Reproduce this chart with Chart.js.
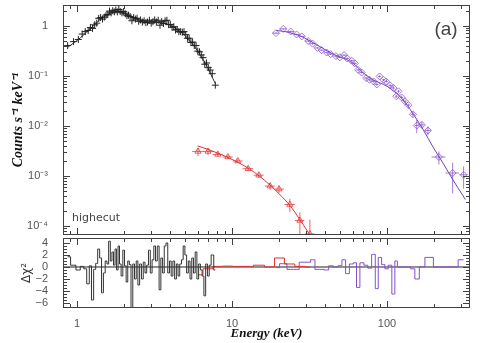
<!DOCTYPE html>
<html>
<head>
<meta charset="utf-8">
<script src="https://cdn.jsdelivr.net/npm/chart.js@4"></script>
<style>
  html, body { margin: 0; padding: 0; background: #fff; }
  #wrap { position: relative; width: 480px; height: 343px; }
  #top { position: absolute; left: 0; top: 0; }
  #bot { position: absolute; left: 0; top: 236px; }
</style>
</head>
<body>
<div id="wrap">
  <canvas id="top" width="480" height="240"></canvas>
  <canvas id="bot" width="480" height="107"></canvas>
</div>
<script>
// axis limits (keV, counts, delta chi)
const xMin = 0.812, xMax = 343;
const yMin = 6.67e-5, yMax = 2.58;
const rMin = -6.83, rMax = 4.83;

// black spectrum (low energy)
const blackE = [0.87, 0.95, 1.02, 1.08, 1.13, 1.18, 1.22, 1.26, 1.30, 1.34, 1.38, 1.42, 1.46, 1.50, 1.54, 1.58,
  1.62, 1.66, 1.70, 1.74, 1.78, 1.82, 1.86, 1.90, 1.95, 2.00, 2.05, 2.10, 2.15, 2.20, 2.26, 2.32, 2.38, 2.44,
  2.50, 2.57, 2.64, 2.71, 2.78, 2.85, 2.93, 3.01, 3.09, 3.17, 3.25, 3.34, 3.43, 3.52, 3.61, 3.70, 3.80, 3.90,
  4.00, 4.10, 4.21, 4.32, 4.43, 4.54, 4.66, 4.78, 4.90, 5.03, 5.16, 5.29, 5.43, 5.57, 5.71, 5.86, 6.01, 6.17,
  6.33, 6.50, 6.67, 6.85, 7.03, 7.22, 7.45, 7.80];
const blackC = [0.40, 0.48, 0.53, 0.68, 0.76, 0.80, 0.92, 0.88, 1.04, 1.12, 1.40, 1.45, 1.35, 1.48, 1.62, 1.66,
  1.95, 1.80, 1.98, 1.88, 2.05, 1.88, 2.10, 1.92, 1.80, 1.92, 1.72, 1.58, 1.62, 1.52, 1.25, 1.45, 1.35, 1.40,
  1.22, 1.30, 1.18, 1.25, 1.15, 1.18, 1.28, 1.12, 1.20, 1.30, 1.18, 1.28, 1.02, 1.20, 1.10, 1.25, 1.28, 1.05,
  1.05, 0.93, 0.95, 0.82, 0.84, 0.76, 0.76, 0.74, 0.76, 0.66, 0.56, 0.56, 0.46, 0.47, 0.40, 0.40, 0.31, 0.30,
  0.26, 0.23, 0.17, 0.18, 0.145, 0.13, 0.11, 0.065];
const blackRes = [1.7, 0.3, -0.5, 0.1, -0.3, -2.8, 0.2, -5.5, -0.4, 0.6, 3.0, 1.5, -4.3, -1.0, 1.0, 0.5,
  4.3, 1.0, 2.5, 0.3, 3.0, -0.5, 3.5, 0.5, -1.5, 2.8, 0.2, -2.5, 1.0, 0.4, -7.0, 0.5, -2.0, 1.0,
  -3.0, 0.5, -2.0, 0.8, -1.0, 0.3, 2.8, -1.0, 1.2, 3.5, 1.0, 3.5, -3.8, 1.5, -1.0, 3.5, 4.0, -1.0,
  1.0, -1.5, 1.0, -2.0, 0.5, -1.5, 0.5, 1.2, 3.5, 2.0, -1.0, 1.0, -2.0, 1.5, -1.0, 2.5, -2.0, 0.5,
  -0.5, -1.5, -4.8, 0.5, -1.5, 0.3, 2.0, -0.5];
const blackModelE = [0.87, 0.95, 1.05, 1.15, 1.27, 1.4, 1.55, 1.7, 1.85, 2.0, 2.2, 2.5, 2.8, 3.2, 3.6, 4.0,
  4.4, 4.8, 5.2, 5.6, 6.0, 6.5, 7.0, 7.5, 7.8];
const blackModelC = [0.37, 0.45, 0.57, 0.74, 0.98, 1.3, 1.62, 1.85, 1.92, 1.8, 1.55, 1.3, 1.2, 1.17, 1.13, 1.02,
  0.86, 0.7, 0.55, 0.42, 0.31, 0.21, 0.14, 0.09, 0.07];

// red spectrum (middle energy)
const redE = [6.03, 7.0, 8.1, 9.4, 10.9, 12.7, 14.9, 17.6, 20.1, 23.6, 27.4, 31.8];
const redC = [3.1e-3, 3.1e-3, 2.7e-3, 2.4e-3, 2.0e-3, 1.4e-3, 1.04e-3, 6.3e-4, 5.5e-4, 2.7e-4, 1.3e-4, 7e-5];
const redXErr = [0.5, 0.5, 0.6, 0.7, 0.8, 1.0, 1.1, 1.3, 1.5, 1.8, 1.9, 2.3];
const redYErr = [6e-4, 5e-4, 3e-4, 2.2e-4, 1.8e-4, 1.5e-4, 1.3e-4, 1e-4, 9e-5, 8e-5, 6e-5, 6.5e-5];
const redRes = [-1.3, -0.3, 0.1, 0.15, 0.1, 0.1, 0.3, 0.0, 1.5, 0.5, 0.1, 0.0];
const redModelE = [6.0, 7, 8, 9.4, 11, 13, 15, 17.6, 20, 23.6, 27.4, 32];
const redModelC = [4.0e-3, 3.4e-3, 2.9e-3, 2.35e-3, 1.85e-3, 1.38e-3, 1.0e-3, 6.6e-4, 4.5e-4, 2.6e-4, 1.35e-4, 6.5e-5];

// purple spectrum (high energy)
const purpleE = [19.2, 21.4, 23.9, 26.1, 28.2, 31.0, 33.1, 35.5, 37.9, 40.8, 43.3, 46.8, 49.6, 52.8, 55.3,
  59.1, 62.0, 65.1, 68.6, 73.3, 77.1, 82.0, 86.0, 89.6, 95.0, 98.8, 104.9, 110, 114.7, 118.6, 124.2, 130.6,
  137.3, 147, 155.5, 167.8, 183.6, 216, 265, 312];
const purpleC = [0.707, 0.861, 0.763, 0.666, 0.609, 0.493, 0.437, 0.359, 0.324, 0.291, 0.270, 0.247, 0.233,
  0.258, 0.222, 0.200, 0.177, 0.131, 0.116, 0.090, 0.083, 0.077, 0.067, 0.097, 0.083, 0.077, 0.064, 0.057,
  0.039, 0.049, 0.037, 0.031, 0.026, 0.017, 0.0102, 0.0105, 0.0081, 0.0024, 0.00115, 0.00106];
const purpleXErr = [1.0, 1.2, 1.2, 1.1, 1.2, 1.4, 1.2, 1.2, 1.3, 1.4, 1.4, 1.6, 1.6, 1.6, 1.6, 1.8, 1.8, 1.8,
  2.0, 2.2, 2.2, 2.4, 2.2, 2.0, 2.2, 2.4, 2.6, 2.8, 2.4, 2.2, 2.8, 3.2, 3.4, 4.5, 4.5, 6, 8, 22, 26, 19];
const purpleYErr = [0.03, 0.03, 0.03, 0.025, 0.02, 0.02, 0.018, 0.015, 0.013, 0.012, 0.011, 0.01, 0.01,
  0.01, 0.009, 0.008, 0.008, 0.006, 0.005, 0.004, 0.004, 0.004, 0.004, 0.005, 0.004, 0.004, 0.004, 0.004,
  0.003, 0.003, 0.003, 0.003, 0.002, 0.002, 0.003, 0.0015, 0.0016, 0.0007, 0.0007, 0.0005];
const purpleRes = [-0.1, 0.55, -0.4, -0.4, 0.8, 0.8, 1.2, -0.4, -0.4, -0.5, 0.2, 0.0, 0.2, 1.2, -1.1,
  0.5, 0.7, -3.4, 0.7, 0.3, -0.2, 2.1, -3.6, 1.6, 0.4, -0.3, 0.3, -4.5, 1.0, 0.0, 0.0, 0.0,
  0.0, -0.3, -2.0, 0.0, 1.6, 0.0, 0.0, 1.2];
const purpleModelE = [19.2, 22, 25, 28, 31, 35, 40, 45, 50, 55, 60, 65, 70, 80, 90, 100, 110, 120, 130, 140,
  150, 170, 200, 230, 270, 310, 320];
const purpleModelC = [0.80, 0.76, 0.69, 0.61, 0.52, 0.42, 0.33, 0.27, 0.235, 0.21, 0.18, 0.145, 0.115, 0.085,
  0.072, 0.062, 0.050, 0.040, 0.030, 0.022, 0.016, 0.0087, 0.0036, 0.0018, 0.00078, 0.00040, 0.00034];

const pts = (xs, ys) => xs.map((x, i) => ({ x: x, y: ys[i] }));

const RED = 'rgba(228,60,60,0.8)';
const PURPLE = 'rgba(135,80,200,0.75)';
const AXIS = '#404040';
const TICKFONT = { family: 'Liberation Sans', size: 11 };

function tickKind(scale, v) {
  if (scale.type === 'logarithmic') {
    const e = Math.floor(Math.log10(v) + 1e-9);
    const s = v / Math.pow(10, e);
    if (Math.abs(s - Math.round(s)) > 1e-6) return 0;
    return Math.round(s) === 1 ? 2 : 1;
  }
  if (Math.abs(v * 2 - Math.round(v * 2)) > 1e-6) return 0;
  return Math.abs(v / 2 - Math.round(v / 2)) < 1e-6 ? 2 : 1;
}

// frame + inward ticks on all four sides
const frameTicks = {
  id: 'frameTicks',
  afterDraw(chart) {
    const { ctx, chartArea: a, scales: { x, y } } = chart;
    ctx.save();
    ctx.strokeStyle = AXIS;
    ctx.lineWidth = 1;
    ctx.strokeRect(a.left + 0.5, a.top + 0.5, a.right - a.left - 1, a.bottom - a.top - 1);
    ctx.beginPath();
    x.ticks.forEach(t => {
      const k = tickKind(x, t.value);
      if (!k) return;
      const px = Math.round(x.getPixelForValue(t.value)) + 0.5;
      const len = k === 2 ? 7 : 4;
      ctx.moveTo(px, a.bottom); ctx.lineTo(px, a.bottom - len);
      ctx.moveTo(px, a.top); ctx.lineTo(px, a.top + len);
    });
    y.ticks.forEach(t => {
      const k = tickKind(y, t.value);
      if (!k) return;
      const py = Math.round(y.getPixelForValue(t.value)) + 0.5;
      const len = k === 2 ? 7 : 4;
      ctx.moveTo(a.left, py); ctx.lineTo(a.left + len, py);
      ctx.moveTo(a.right, py); ctx.lineTo(a.right - len, py);
    });
    ctx.stroke();
    ctx.restore();
  }
};

// error crosses from errX / errY
const errorBars = {
  id: 'errorBars',
  beforeDatasetsDraw(chart) {
    const { ctx, chartArea: a, scales: { x, y } } = chart;
    ctx.save();
    ctx.beginPath();
    ctx.rect(a.left, a.top, a.right - a.left, a.bottom - a.top);
    ctx.clip();
    chart.data.datasets.forEach(ds => {
      if (!ds.errX) return;
      ctx.strokeStyle = ds.borderColor;
      ctx.lineWidth = 1;
      ctx.beginPath();
      ds.data.forEach((p, i) => {
        const px = x.getPixelForValue(p.x), py = y.getPixelForValue(p.y);
        ctx.moveTo(x.getPixelForValue(p.x - ds.errX[i]), py);
        ctx.lineTo(x.getPixelForValue(p.x + ds.errX[i]), py);
        ctx.moveTo(px, y.getPixelForValue(Math.max(p.y - ds.errY[i], 1e-7)));
        ctx.lineTo(px, y.getPixelForValue(p.y + ds.errY[i]));
      });
      ctx.stroke();
    });
    ctx.restore();
  }
};

const notes = {
  id: 'notes',
  afterDraw(chart) {
    const { ctx, chartArea: a } = chart;
    ctx.save();
    ctx.fillStyle = '#444';
    ctx.textBaseline = 'middle';
    ctx.textAlign = 'center';
    ctx.font = '19px "Liberation Sans"';
    ctx.fillText('(a)', a.right - 24, a.top + 25);
    ctx.textAlign = 'left';
    ctx.textBaseline = 'alphabetic';
    ctx.font = '11px "DejaVu Sans"';
    ctx.fillText('highecut', a.left + 9, a.bottom - 14);
    ctx.restore();
  }
};

function logLabel(v) {
  const e = Math.round(Math.log10(v));
  if (Math.abs(Math.log10(v) - e) > 1e-6) return '';
  if (e === 0) return '1';
  const sup = { '-': '⁻', '0': '⁰', '1': '¹', '2': '²', '3': '³', '4': '⁴' };
  return '10' + String(e).split('').map(c => sup[c]).join('');
}

function plainLabel(v) {
  const e = Math.round(Math.log10(v));
  if (Math.abs(Math.log10(v) - e) > 1e-6) return '';
  return String(Math.round(Math.pow(10, e)));
}

// keep the plot frames exactly where the axes say, without label overhang
function fixWidth(w) {
  return s => { s.width = w; s.paddingTop = 0; s.paddingBottom = 0; };
}
function fixHeight(h) {
  return s => { s.height = h; s.paddingLeft = 0; s.paddingRight = 0; };
}

const topChart = new Chart(document.getElementById('top'), {
  type: 'scatter',
  data: {
    datasets: [
      { data: pts(blackE, blackC), pointStyle: 'cross', pointRadius: 3.5, borderColor: '#222', borderWidth: 1, order: 1 },
      { type: 'line', data: pts(blackModelE, blackModelC), borderColor: '#333', borderWidth: 1, pointRadius: 0,
        cubicInterpolationMode: 'monotone', order: 2 },
      { data: pts(redE, redC), errX: redXErr, errY: redYErr, pointStyle: 'triangle', pointRadius: 3.5,
        borderColor: RED, backgroundColor: 'transparent', borderWidth: 1, order: 1 },
      { type: 'line', data: pts(redModelE, redModelC), borderColor: '#e03030', borderWidth: 1, pointRadius: 0,
        cubicInterpolationMode: 'monotone', order: 2 },
      { data: pts(purpleE, purpleC), errX: purpleXErr, errY: purpleYErr, pointStyle: 'rectRot', pointRadius: 3.5,
        borderColor: PURPLE, backgroundColor: 'transparent', borderWidth: 1, order: 1 },
      { type: 'line', data: pts(purpleModelE, purpleModelC), borderColor: '#7040b8', borderWidth: 1, pointRadius: 0,
        cubicInterpolationMode: 'monotone', order: 2 }
    ]
  },
  options: {
    responsive: false,
    animation: false,
    layout: { padding: { top: 4, right: 10, left: 0, bottom: 0 } },
    plugins: { legend: { display: false }, tooltip: { enabled: false } },
    scales: {
      x: {
        type: 'logarithmic', min: xMin, max: xMax,
        grid: { display: false }, border: { display: false },
        ticks: { display: false, autoSkip: false },
        afterFit: fixHeight(2)
      },
      y: {
        type: 'logarithmic', min: yMin, max: yMax,
        grid: { display: false }, border: { display: false },
        ticks: { autoSkip: false, padding: 7, color: '#555', font: TICKFONT, callback: v => logLabel(v) },
        title: { display: true, text: 'Counts s⁻¹ keV⁻¹', color: '#111', padding: { top: 10, bottom: 0 },
          font: { family: 'Liberation Serif', size: 14, style: 'italic', weight: 'bold' } },
        afterFit: fixWidth(63)
      }
    }
  },
  plugins: [errorBars, frameTicks, notes]
});

const botChart = new Chart(document.getElementById('bot'), {
  type: 'scatter',
  data: {
    datasets: [
      { type: 'line', data: pts(blackE, blackRes), stepped: 'middle', borderColor: '#333', borderWidth: 1,
        pointRadius: 0, order: 1 },
      { type: 'line', data: pts(redE, redRes), stepped: 'middle', borderColor: '#e03030', borderWidth: 1,
        pointRadius: 0, order: 2 },
      { type: 'line', data: pts(purpleE, purpleRes), stepped: 'middle', borderColor: '#8450cc', borderWidth: 1,
        pointRadius: 0, order: 2 },
      { type: 'line', data: [{ x: xMin, y: 0 }, { x: xMax, y: 0 }], borderColor: '#222', borderWidth: 1,
        pointRadius: 0, order: 3 }
    ]
  },
  options: {
    responsive: false,
    animation: false,
    layout: { padding: { top: 2, right: 10, left: 0, bottom: 0 } },
    plugins: { legend: { display: false }, tooltip: { enabled: false } },
    scales: {
      x: {
        type: 'logarithmic', min: xMin, max: xMax,
        grid: { display: false }, border: { display: false },
        ticks: { autoSkip: false, maxRotation: 0, padding: 1, color: '#555', font: TICKFONT,
          callback: v => plainLabel(v) },
        title: { display: true, text: 'Energy (keV)', color: '#111', padding: { top: 0, bottom: 2 },
          font: { family: 'Liberation Serif', size: 13, style: 'italic', weight: 'bold' } },
        afterFit: fixHeight(35)
      },
      y: {
        min: rMin, max: rMax,
        grid: { display: false }, border: { display: false },
        ticks: { autoSkip: false, stepSize: 0.5, padding: 7, color: '#555', font: TICKFONT,
          callback: v => (Number.isInteger(v) && v % 2 === 0) ? String(v).replace('-', '\u2212') : '' },
        title: { display: true, text: 'Δχ²', color: '#333', padding: { top: 20, bottom: 0 },
          font: { family: 'DejaVu Sans', size: 12 } },
        afterFit: fixWidth(63)
      }
    }
  },
  plugins: [frameTicks]
});
</script>
</body>
</html>
